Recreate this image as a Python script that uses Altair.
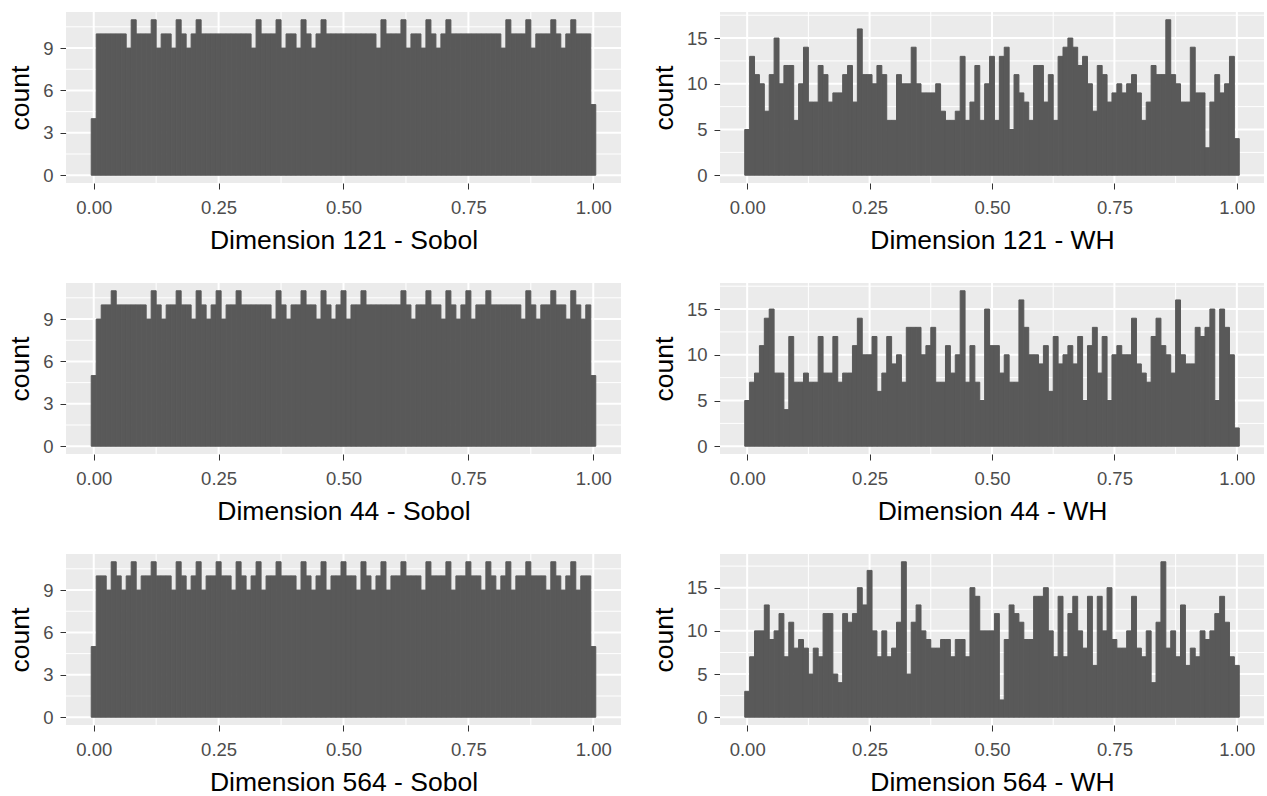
import altair as alt
import pandas as pd

BIN_WIDTH = 0.01

sobol_121 = [4, 10, 10, 10, 10, 10, 10, 9, 11, 10, 10, 10, 11, 9, 10, 10, 9, 11, 10, 9, 10, 11,
             10, 10, 10, 10, 10, 10, 10, 10, 10, 10, 9, 11, 10, 10, 10, 11, 9, 10, 10, 9, 11, 10,
             9, 10, 11, 10, 10, 10, 10, 10, 10, 10, 10, 10, 10, 9, 11, 10, 10, 10, 11, 9, 10, 10,
             9, 11, 10, 9, 10, 11, 10, 10, 10, 10, 10, 10, 10, 10, 10, 10, 9, 11, 10, 10, 10, 11,
             9, 10, 10, 10, 11, 10, 9, 10, 11, 10, 10, 10, 5]
sobol_44 = [5, 9, 10, 10, 11, 10, 10, 10, 10, 10, 10, 9, 11, 10, 9, 10, 10, 11, 10, 10, 9, 11,
            10, 9, 10, 11, 9, 10, 10, 11, 10, 10, 10, 10, 10, 10, 9, 11, 10, 9, 10, 10, 11, 10,
            10, 9, 11, 10, 9, 10, 11, 9, 10, 10, 11, 10, 10, 10, 10, 10, 10, 10, 11, 10, 9, 10,
            10, 11, 10, 10, 9, 11, 10, 9, 10, 11, 9, 10, 10, 11, 10, 10, 10, 10, 10, 10, 9, 11,
            10, 9, 10, 10, 11, 10, 10, 9, 11, 10, 9, 10, 5]
sobol_564 = [5, 10, 10, 9, 11, 10, 9, 10, 11, 9, 10, 10, 11, 10, 10, 10, 9, 11, 10, 9, 10, 11,
             9, 10, 10, 11, 10, 10, 9, 11, 10, 9, 10, 11, 9, 10, 10, 11, 10, 10, 10, 9, 11, 10,
             9, 10, 11, 9, 10, 10, 11, 10, 10, 9, 11, 10, 9, 10, 11, 9, 10, 10, 11, 10, 10, 10,
             9, 11, 10, 10, 10, 11, 9, 10, 10, 11, 10, 10, 9, 11, 10, 9, 10, 11, 9, 10, 10, 11,
             10, 10, 10, 9, 11, 10, 9, 10, 11, 9, 10, 10, 5]
wh_121 = [5, 13, 11, 10, 7, 11, 15, 10, 12, 12, 6, 10, 14, 8, 8, 12, 11, 8, 9, 9, 11, 12, 8, 16,
          11, 11, 10, 12, 11, 6, 6, 11, 10, 10, 14, 10, 9, 9, 9, 10, 7, 6, 6, 7, 13, 6, 8, 12, 6,
          10, 13, 6, 13, 14, 5, 11, 9, 8, 6, 12, 12, 8, 11, 6, 13, 14, 15, 14, 12, 13, 10, 7, 12,
          11, 8, 9, 10, 9, 10, 11, 9, 6, 8, 12, 11, 11, 17, 11, 10, 8, 8, 14, 9, 9, 3, 8, 11, 9,
          10, 13, 4]
wh_44 = [5, 7, 8, 11, 14, 15, 8, 8, 4, 12, 7, 7, 8, 7, 7, 12, 8, 8, 12, 7, 8, 8, 11, 14, 10, 10,
         12, 6, 8, 12, 9, 10, 7, 13, 13, 13, 10, 11, 13, 7, 7, 11, 8, 10, 17, 7, 11, 7, 5, 15, 11,
         11, 8, 10, 7, 7, 16, 13, 10, 10, 9, 11, 6, 12, 9, 10, 11, 9, 12, 5, 11, 13, 8, 12, 5, 10,
         11, 10, 10, 14, 9, 8, 7, 12, 14, 11, 10, 8, 16, 10, 9, 9, 13, 12, 13, 15, 5, 15, 13, 10, 2]
wh_564 = [3, 7, 10, 10, 13, 9, 10, 12, 7, 11, 8, 9, 8, 5, 8, 7, 12, 12, 5, 4, 12, 11, 12, 15, 13,
          17, 10, 7, 10, 7, 8, 11, 18, 5, 11, 13, 10, 9, 8, 8, 9, 9, 7, 9, 9, 7, 15, 14, 10, 10, 10,
          12, 2, 9, 13, 12, 11, 9, 9, 14, 14, 15, 10, 7, 14, 7, 12, 14, 10, 8, 14, 6, 14, 10, 15, 9,
          8, 8, 10, 14, 8, 7, 10, 4, 11, 18, 8, 10, 7, 13, 6, 8, 7, 10, 9, 10, 12, 14, 11, 7, 6]

for arr in (sobol_121, sobol_44, sobol_564, wh_121, wh_44, wh_564):
    assert len(arr) == 101, len(arr)

x_ticks = [0.0, 0.25, 0.5, 0.75, 1.0]
x_minor = [0.125, 0.375, 0.625, 0.875]
sobol_ticks = [0, 3, 6, 9]
sobol_minor = [1.5, 4.5, 7.5, 10.5]
wh_ticks = [0, 5, 10, 15]
wh_minor = [2.5, 7.5, 12.5, 17.5]

FONT = "Liberation Sans"
PANEL_H = 171
BAR = "#595959"


def panel(counts, label, yticks, yminor, width):
    top = max(counts)
    df = pd.DataFrame({"center": [i * BIN_WIDTH for i in range(len(counts))], "count": counts})
    xs = alt.Scale(domain=[-0.0555, 1.0555], nice=False, zero=False)
    ys = alt.Scale(domain=[-0.05 * top, 1.05 * top], nice=False, zero=False)

    def xaxis():
        return alt.Axis(values=x_ticks, format=".2f", title=label, grid=False)

    def yaxis():
        return alt.Axis(values=yticks, format="d", title="count", grid=False)

    def rules(vals, ch, w):
        d = pd.DataFrame({"v": vals})
        if ch == "x":
            enc = {"x": alt.X("v:Q", scale=xs, axis=xaxis())}
        else:
            enc = {"y": alt.Y("v:Q", scale=ys, axis=yaxis())}
        return alt.Chart(d).mark_rule(color="white", strokeWidth=w).encode(**enc)

    bars = alt.Chart(df).transform_calculate(
        x0=f"datum.center - {BIN_WIDTH / 2}", x1=f"datum.center + {BIN_WIDTH / 2}"
    ).mark_bar(color=BAR, stroke=BAR, strokeWidth=1.0).encode(
        x=alt.X("x0:Q", scale=xs, axis=xaxis()),
        x2="x1:Q",
        y=alt.Y("count:Q", scale=ys, axis=yaxis()),
        y2=alt.datum(0),
    )
    return alt.layer(
        rules(x_minor, "x", 1.0), rules(yminor, "y", 1.0),
        rules(x_ticks, "x", 2.0), rules(yticks, "y", 2.0),
        bars,
    ).properties(width=width, height=PANEL_H)


LW, RW = 555, 544
HSP = 29
rows = [
    alt.hconcat(panel(sobol_121, "Dimension 121 - Sobol", sobol_ticks, sobol_minor, LW),
                panel(wh_121, "Dimension 121 - WH", wh_ticks, wh_minor, RW), spacing=HSP),
    alt.hconcat(panel(sobol_44, "Dimension 44 - Sobol", sobol_ticks, sobol_minor, LW),
                panel(wh_44, "Dimension 44 - WH", wh_ticks, wh_minor, RW), spacing=HSP),
    alt.hconcat(panel(sobol_564, "Dimension 564 - Sobol", sobol_ticks, sobol_minor, LW),
                panel(wh_564, "Dimension 564 - WH", wh_ticks, wh_minor, RW), spacing=HSP),
]

chart = alt.vconcat(*rows, spacing=28).properties(
    padding={"left": 7, "top": 11, "right": 0, "bottom": 0},
    background="white",
).configure_view(
    fill="#EBEBEB", stroke=None
).configure_axis(
    labelFont=FONT, titleFont=FONT, labelColor="#4D4D4D", titleColor="#000000",
    labelFontSize=18.5, titleFontSize=26.5, titleFontWeight="normal",
    tickColor="#333333", tickSize=6, domain=False,
).configure_axisX(
    minExtent=34, maxExtent=34, titlePadding=10.5, labelPadding=9,
).configure_axisY(
    minExtent=0, titlePadding=8, labelPadding=7,
)

chart.save("out.html", embed_options={"renderer": "svg", "actions": False})
